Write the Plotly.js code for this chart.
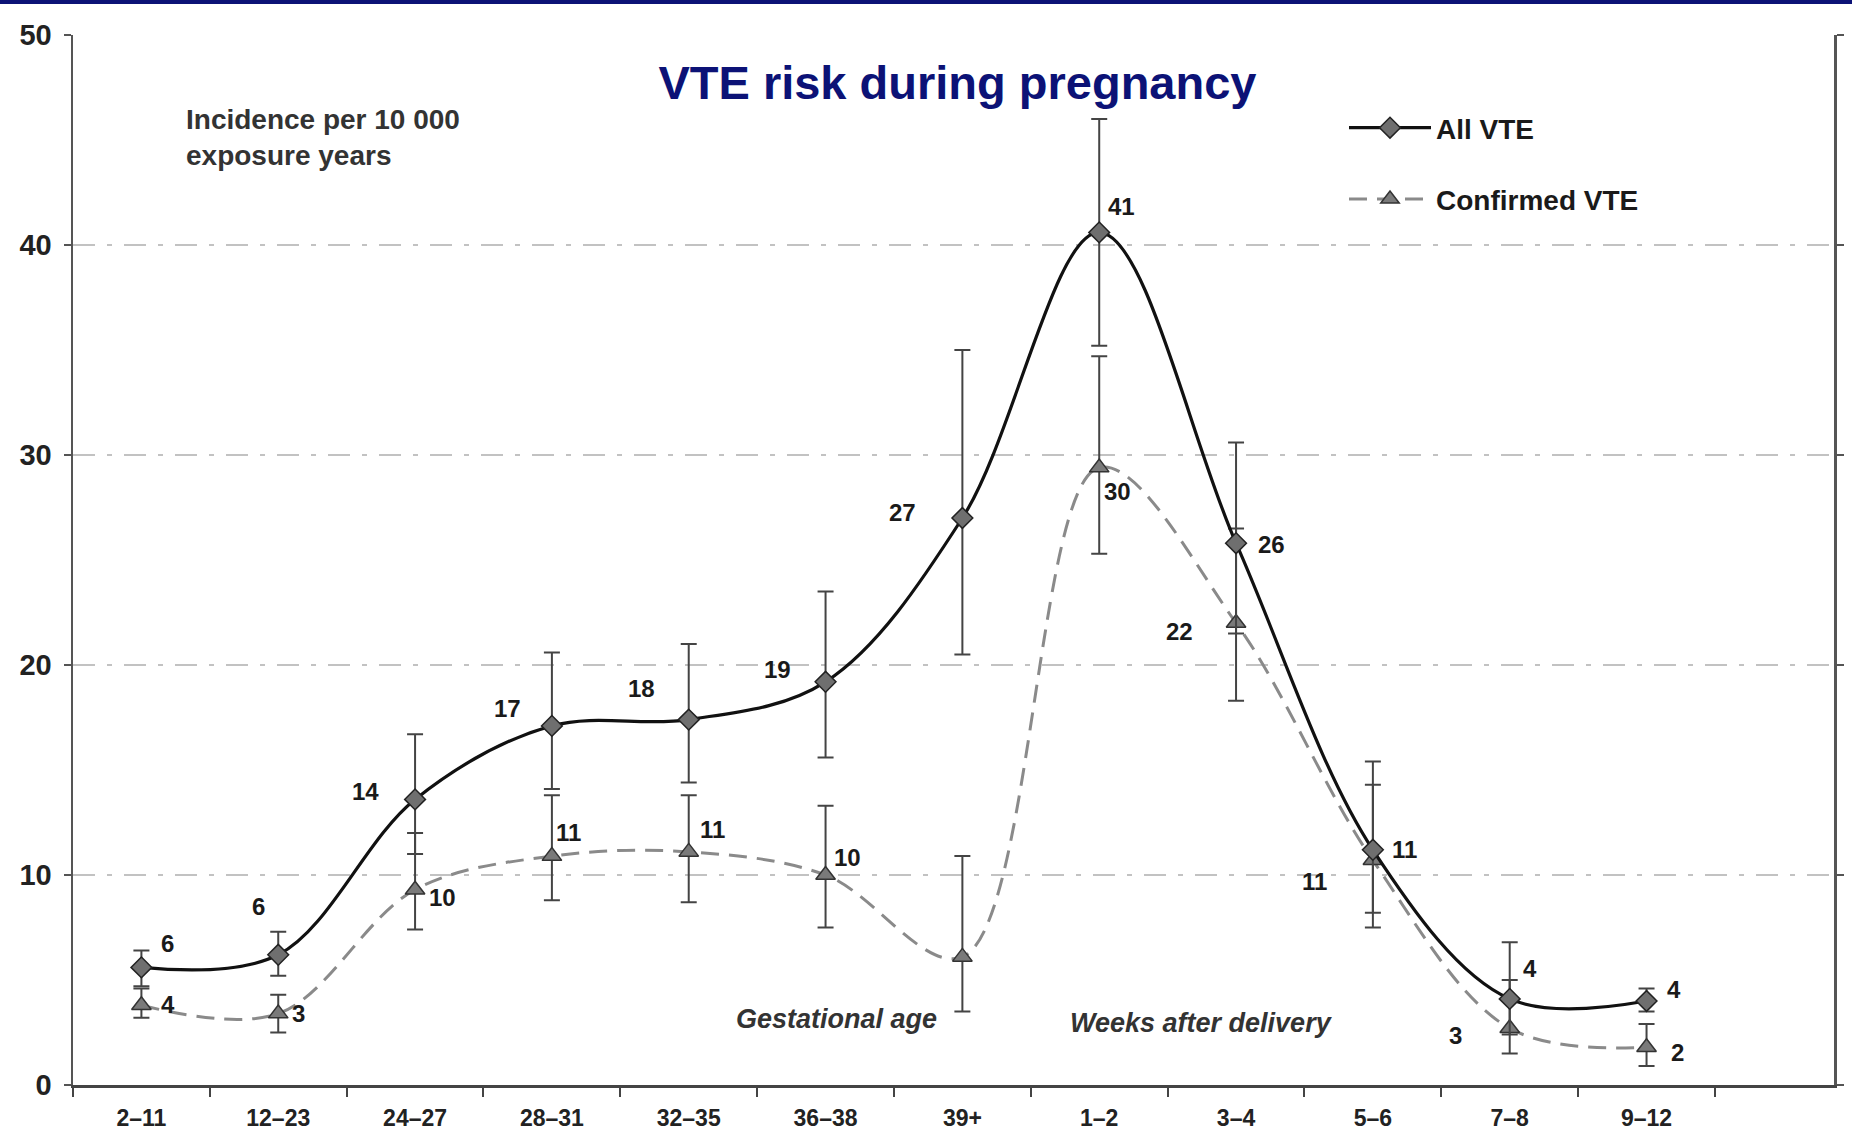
<!DOCTYPE html>
<html>
<head>
<meta charset="utf-8">
<script src="https://cdn.plot.ly/plotly-3.0.1.min.js"></script>
<style>
  html, body { margin: 0; padding: 0; background: #ffffff; }
  #chart { width: 1852px; height: 1143px; }
</style>
</head>
<body>
<div id="chart"></div>
<script>
// ---- data ----
const categories = ['2–11','12–23','24–27','28–31','32–35','36–38','39+','1–2','3–4','5–6','7–8','9–12'];

const allVTE      = [5.6, 6.2, 13.6, 17.1, 17.4, 19.2, 27.0, 40.6, 25.8, 11.2, 4.1, 4.0];
const allUpper    = [6.4, 7.3, 16.7, 20.6, 21.0, 23.5, 35.0, 46.0, 30.6, 15.4, 6.8, 4.6];
const allLower    = [4.7, 5.2, 11.0, 14.1, 14.4, 15.6, 20.5, 35.2, 21.5, 7.5, 2.4, 3.5];
const allLabels   = ['6','6','14','17','18','19','27','41','26','11','4','4'];

const confVTE     = [3.8, 3.4, 9.3, 10.9, 11.1, 10.0, 6.1, 29.4, 22.0, 10.7, 2.7, 1.8];
const confUpper   = [4.6, 4.3, 12.0, 13.8, 13.8, 13.3, 10.9, 34.7, 26.5, 14.3, 5.0, 2.9];
const confLower   = [3.2, 2.5, 7.4, 8.8, 8.7, 7.5, 3.5, 25.3, 18.3, 8.2, 1.5, 0.9];
const confLabels  = ['4','3','10','11','11','10','','30','22','11','3','2'];

const yTicks = [0, 10, 20, 30, 40, 50];

// label offsets in pixels (styling only)
const allLabelShift  = [[26,24],[-20,48],[-50,8],[-44,17],[-47,31],[-48,12],[-60,6],[22,26],[35,-1],[32,0],[20,30],[27,12]];
const confLabelShift = [[27,1],[20,0],[27,-8],[17,24],[24,22],[22,18],[0,0],[18,-24],[-57,-8],[-58,-21],[-54,-7],[31,-5]];

const FONT = 'Liberation Sans, Arial, sans-serif';
const PL = 73, PR = 1834, PT = 35, PB = 1085;
const PW = PR - PL, PH = PB - PT;
const px = (x) => (x - PL) / PW;
const py = (y) => (PB - y) / PH;

const confTrace = {
  x: categories, y: confVTE, name: 'Confirmed VTE', type: 'scatter', mode: 'lines+markers',
  legendgroup: 'b', legendrank: 2,
  line: { shape: 'spline', smoothing: 1, color: '#8a8a8a', width: 3, dash: '18px,10px' },
  marker: { symbol: 'triangle-up', size: 17, color: '#7a7a7a', line: { color: '#333', width: 1.5 } },
  error_y: {
    type: 'data', symmetric: false,
    array: confUpper.map((u, i) => u - confVTE[i]),
    arrayminus: confLower.map((l, i) => confVTE[i] - l),
    color: '#444', thickness: 2, width: 8
  },
  hoverinfo: 'skip'
};

const allTrace = {
  x: categories, y: allVTE, name: 'All VTE', type: 'scatter', mode: 'lines+markers',
  legendgroup: 'a', legendrank: 1,
  line: { shape: 'spline', smoothing: 1, color: '#111', width: 3.2 },
  marker: { symbol: 'diamond', size: 16, color: '#6f6f6f', line: { color: '#222', width: 1.5 } },
  error_y: {
    type: 'data', symmetric: false,
    array: allUpper.map((u, i) => u - allVTE[i]),
    arrayminus: allLower.map((l, i) => allVTE[i] - l),
    color: '#444', thickness: 2, width: 8
  },
  hoverinfo: 'skip'
};

const annotations = [];
categories.forEach((c, i) => {
  if (allLabels[i]) annotations.push({
    x: c, y: allVTE[i], xref: 'x', yref: 'y', text: allLabels[i], showarrow: false,
    xshift: allLabelShift[i][0], yshift: allLabelShift[i][1],
    font: { family: FONT, size: 24, color: '#1a1a1a', weight: 'bold' }
  });
  if (confLabels[i]) annotations.push({
    x: c, y: confVTE[i], xref: 'x', yref: 'y', text: confLabels[i], showarrow: false,
    xshift: confLabelShift[i][0], yshift: confLabelShift[i][1],
    font: { family: FONT, size: 24, color: '#1a1a1a', weight: 'bold' }
  });
});

annotations.push({
  xref: 'paper', yref: 'paper', x: px(184), y: py(102),
  xanchor: 'left', yanchor: 'top', align: 'left', showarrow: false,
  text: 'Incidence per 10 000<br>exposure years',
  font: { family: FONT, size: 28, color: '#333', weight: 'bold' }
});
annotations.push({
  xref: 'paper', yref: 'paper', x: px(836), y: py(1019),
  xanchor: 'center', yanchor: 'middle', showarrow: false,
  text: '<i>Gestational age</i>',
  font: { family: FONT, size: 27, color: '#333', weight: 'bold' }
});
annotations.push({
  xref: 'paper', yref: 'paper', x: px(1201), y: py(1023),
  xanchor: 'center', yanchor: 'middle', showarrow: false,
  text: '<i>Weeks after delivery</i>',
  font: { family: FONT, size: 27, color: '#333', weight: 'bold' }
});

const layout = {
  width: 1852, height: 1143,
  margin: { l: PL, r: 1852 - PR, t: PT, b: 1143 - PB },
  paper_bgcolor: '#ffffff', plot_bgcolor: '#ffffff',
  title: {
    text: '<b>VTE risk during pregnancy</b>',
    x: 0.517, xanchor: 'center', xref: 'container',
    y: 1 - 83 / 1143, yanchor: 'middle', yref: 'container',
    font: { family: FONT, size: 47, color: '#0c1276' }
  },
  showlegend: true,
  legend: {
    x: px(1344), y: py(103), xanchor: 'left', yanchor: 'top',
    bgcolor: 'rgba(255,255,255,0)', borderwidth: 0,
    traceorder: 'grouped', tracegroupgap: 32,
    font: { family: FONT, size: 28, color: '#1a1a1a', weight: 'bold' },
    itemwidth: 82
  },
  xaxis: {
    type: 'category', categoryorder: 'array', categoryarray: categories,
    range: [-0.5, 12.37],
    showgrid: false, zeroline: false,
    showline: true, linecolor: '#444', linewidth: 2.5,
    ticks: 'outside', tickson: 'boundaries', ticklen: 9, tickwidth: 2, tickcolor: '#444',
    tickfont: { family: FONT, size: 23, color: '#222', weight: 'bold' },
    ticklabelstandoff: 11
  },
  yaxis: {
    range: [0, 50], tickvals: yTicks, ticktext: yTicks.map(String),
    showgrid: true, gridcolor: '#c2c2c2', gridwidth: 1.8, griddash: '22px,12px,5px,12px',
    zeroline: false,
    showline: true, linecolor: '#555', linewidth: 2.5, mirror: 'ticks',
    ticks: 'outside', ticklen: 7, tickwidth: 1.5, tickcolor: '#555',
    tickfont: { family: FONT, size: 29, color: '#222', weight: 'bold' },
    ticklabelstandoff: 6
  },
  shapes: [{
    type: 'rect', xref: 'paper', yref: 'paper',
    x0: px(0), x1: px(1852),
    y0: py(4), y1: py(-10),
    fillcolor: '#0c1276', line: { width: 0 }, layer: 'above'
  }],
  annotations: annotations
};

Plotly.newPlot('chart', [confTrace, allTrace], layout, { staticPlot: true, displayModeBar: false });
</script>
</body>
</html>
